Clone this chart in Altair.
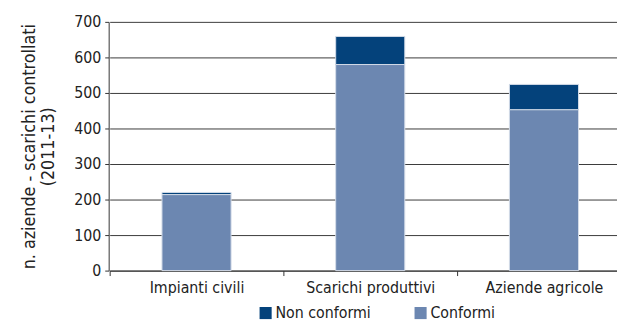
import altair as alt
import pandas as pd

categories = ["Impianti civili", "Scarichi produttivi", "Aziende agricole"]
conformi = [214, 580, 453]
non_conformi = [6, 79, 71]
series = ["Non conformi", "Conformi"]
colors = ["#04427b", "#6c87b1"]
y_ticks = [0, 100, 200, 300, 400, 500, 600, 700]

rows = []
for c, v1, v2 in zip(categories, conformi, non_conformi):
    rows.append({"cat": c, "serie": "Conformi", "val": v1, "ord": 0})
    rows.append({"cat": c, "serie": "Non conformi", "val": v2, "ord": 1})
df = pd.DataFrame(rows)

FONT = "'DejaVu Sans Condensed', 'Liberation Sans Narrow', 'Roboto Condensed', sans-serif"

chart = alt.Chart(df).mark_bar(size=70, stroke="#d3dbe8", strokeWidth=1).encode(
    x=alt.X("cat:N", sort=categories,
            scale=alt.Scale(range=[1, 529], paddingInner=0, paddingOuter=0),
            axis=alt.Axis(title=None, labelAngle=0, tickBand="extent", ticks=True,
                          tickSize=5, labelFontSize=16, labelColor="#222",
                          labelFont=FONT, labelPadding=4, domainColor="#333",
                          tickColor="#333", grid=False)),
    y=alt.Y("val:Q", stack="zero",
            scale=alt.Scale(domain=[0, 700], nice=False),
            axis=alt.Axis(values=y_ticks, title=["n. aziende - scarichi controllati", "(2011-13)"],
                          titleFont=FONT, titleFontSize=18, titleFontWeight="normal",
                          titleColor="#222", titlePadding=16, titleLineHeight=20,
                          labelFont=FONT, labelFontSize=16, labelColor="#222",
                          tickSize=4, tickColor="#333", domainColor="#333",
                          gridColor="#3a3a3a", gridWidth=1, labelPadding=4)),
    color=alt.Color("serie:N", sort=series,
                    scale=alt.Scale(domain=series, range=colors),
                    legend=alt.Legend(title=None, orient="none", direction="horizontal",
                                      legendX=151, legendY=287,
                                      symbolType="square", symbolSize=150,
                                      symbolStrokeWidth=0, labelFont=FONT,
                                      labelFontSize=16, labelColor="#222",
                                      labelOffset=2, columnPadding=42)),
    order=alt.Order("ord:Q"),
).properties(
    width=515, height=252,
    autosize=alt.AutoSizeParams(type="none"),
    padding={"left": 102, "top": 12, "right": 0, "bottom": 50},
).configure_view(stroke=None).configure_axis(domainWidth=1)

chart.save("out.html", embed_options={"renderer": "svg", "actions": False})
